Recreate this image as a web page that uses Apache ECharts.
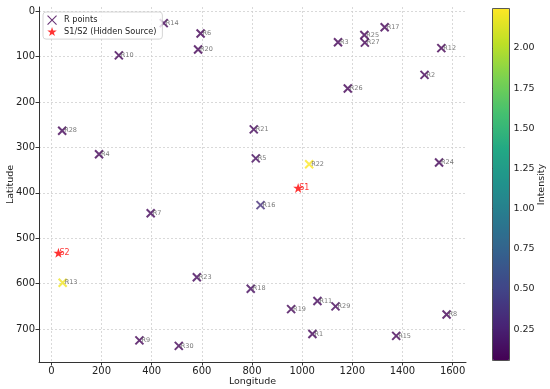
<!DOCTYPE html>
<html>
<head>
<meta charset="utf-8">
<script src="https://cdn.jsdelivr.net/npm/echarts@6/dist/echarts.min.js"></script>
<style>html,body{margin:0;padding:0;background:#fff}#c{width:550px;height:389px}</style>
</head>
<body>
<div id="c"></div>
<script>
// ---- data ----
const rNames = ['R1','R2','R3','R4','R5','R6','R7','R8','R9','R10','R11','R12','R13','R14','R15','R16','R17','R18','R19','R20','R21','R22','R23','R24','R25','R26','R27','R28','R29','R30'];
const rLon = [1041,1488,1143,190,815,595,396,1576,351,269,1061,1555,45,448,1375,834,1329,795,956,585,807,1028,580,1546,1248,1182,1250,43,1133,508];
const rLat = [711,140,68,315,324,49,445,668,725,97,638,81,598,26,715,427,35,611,656,84,260,337,586,333,52,170,69,263,650,737];
const rIntensity = [0.08,0.07,0.07,0.08,0.12,0.07,0.1,0.07,0.07,0.08,0.1,0.055,2.2,0.09,0.07,0.35,0.07,0.12,0.08,0.07,0.1,2.245,0.1,0.08,0.07,0.07,0.07,0.08,0.09,0.08];
const sNames = ['S1','S2'];
const sLon = [984,28];
const sLat = [389,532];
const xTicks = [0,200,400,600,800,1000,1200,1400,1600];
const yTicks = [0,100,200,300,400,500,600,700];
const cTicks = [0.25,0.5,0.75,1.0,1.25,1.5,1.75,2.0];

const viridis = ['#440154','#482475','#414487','#355f8d','#2a788e','#21918c','#22a884','#44bf70','#7ad151','#bddf26','#fde725'];
const FONT = 'DejaVu Sans';
const XPATH = 'path://M0,0L10,10M10,0L0,10';
const STAR = 'path://M50,0L61.2,34.5L97.6,34.5L68.2,55.9L79.4,90.5L50,69.1L20.6,90.5L31.8,55.9L2.4,34.5L38.8,34.5Z';

// matplotlib-like 5% margins
const allX = rLon.concat(sLon), allY = rLat.concat(sLat);
const xMinD = Math.min(...allX), xMaxD = Math.max(...allX);
const yMinD = Math.min(...allY), yMaxD = Math.max(...allY);
const xPad = (xMaxD - xMinD) * 0.05, yPad = (yMaxD - yMinD) * 0.05;
const cMin = Math.min(...rIntensity), cMax = Math.max(...rIntensity);

const rData = rNames.map((n,i)=>({name:n, value:[rLon[i], rLat[i], rIntensity[i]]}));
const sData = sNames.map((n,i)=>({name:n, value:[sLon[i], sLat[i]]}));

const chart = echarts.init(document.getElementById('c'), null, {renderer:'canvas'});
const axisTxt = {color:'#222', fontFamily:FONT, fontSize:10};
chart.setOption({
  animation:false,
  textStyle:{fontFamily:FONT},
  grid:[
    {left:39, right:84, top:7, bottom:27, containLabel:false, outerBoundsMode:'none'},
    {left:492.5, width:17, top:8.5, height:352, show:true, borderColor:'#333', borderWidth:0.8, backgroundColor:'transparent', z:10, containLabel:false, outerBoundsMode:'none'}
  ],
  xAxis:[
    {type:'value', gridIndex:0, min:xMinD-xPad, max:xMaxD+xPad,
     name:'Longitude', nameLocation:'middle', nameGap:15, nameMoveOverlap:false, nameTextStyle:{color:'#222', fontFamily:FONT, fontSize:9.5},
     axisLine:{show:true, onZero:false, lineStyle:{color:'#333', width:1}},
     axisTick:{show:true, length:3.5, lineStyle:{color:'#333'}, customValues:xTicks},
     axisLabel:Object.assign({margin:4, customValues:xTicks, formatter:v=>String(v)}, axisTxt),
     splitLine:{show:true, customValues:xTicks, lineStyle:{color:'#d0d0d0', type:[2,2], width:0.8}}
    },
    {type:'value', gridIndex:1, show:false, min:0, max:1}
  ],
  yAxis:[
    {type:'value', gridIndex:0, inverse:true, min:yMinD-yPad, max:yMaxD+yPad,
     name:'Latitude', nameLocation:'middle', nameGap:23.5, nameRotate:90, nameMoveOverlap:false, nameTextStyle:{color:'#222', fontFamily:FONT, fontSize:9.5},
     axisLine:{show:true, onZero:false, lineStyle:{color:'#333', width:1}},
     axisTick:{show:true, length:3.5, lineStyle:{color:'#333'}, customValues:yTicks},
     axisLabel:Object.assign({margin:4, customValues:yTicks, formatter:v=>String(v)}, axisTxt),
     splitLine:{show:true, customValues:yTicks, lineStyle:{color:'#d0d0d0', type:[2,2], width:0.8}}
    },
    {type:'value', gridIndex:1, position:'right', min:cMin, max:cMax,
     name:'Intensity', nameLocation:'middle', nameGap:27, nameRotate:90, nameMoveOverlap:false, nameTextStyle:{color:'#222', fontFamily:FONT, fontSize:9.5},
     axisLine:{show:false},
     axisTick:{show:true, length:3.5, lineStyle:{color:'#333'}, customValues:cTicks},
     axisLabel:{margin:4, customValues:cTicks, formatter:v=>v.toFixed(2), color:'#222', fontFamily:FONT, fontSize:9.5},
     splitLine:{show:false}
    }
  ],
  visualMap:{
    type:'continuous', seriesIndex:0, dimension:2, min:cMin, max:cMax,
    calculable:false, show:true, left:492.5, top:8.5, itemWidth:17, itemHeight:352,
    padding:0, text:null, textStyle:{color:'rgba(0,0,0,0)'},
    inRange:{color:viridis}
  },
  legend:{
    orient:'vertical', left:43, top:12, padding:[3,6,3,4], itemGap:2,
    itemWidth:14, itemHeight:9,
    backgroundColor:'rgba(255,255,255,0.8)', borderColor:'#cccccc', borderWidth:0.8, borderRadius:3,
    textStyle:{color:'#222', fontFamily:FONT, fontSize:8.2},
    data:[
      {name:'R points', icon:XPATH, itemStyle:{color:'rgba(0,0,0,0)', borderColor:'#440154', borderWidth:1.1}},
      {name:'S1/S2 (Hidden Source)', icon:STAR, itemStyle:{color:'#ff0000', borderWidth:0}}
    ]
  },
  series:[
    {name:'R points', type:'scatter', xAxisIndex:0, yAxisIndex:0,
     symbol:'empty'+XPATH.charAt(0).toUpperCase()+XPATH.slice(1), symbolSize:8,
     itemStyle:{color:'#440154', borderWidth:1.0},
     label:{show:true, position:'right', distance:-3, formatter:p=>p.name, color:'#555', fontSize:6.5, fontFamily:FONT},
     data:rData, z:3},
    {name:'S1/S2 (Hidden Source)', type:'scatter', xAxisIndex:0, yAxisIndex:0,
     symbol:STAR, symbolSize:10, itemStyle:{color:'#ff0000'},
     label:{show:true, position:'right', distance:-4, formatter:p=>p.name, color:'#ff0000', fontSize:8, fontFamily:FONT},
     data:sData, z:4}
  ]
});
</script>
</body>
</html>
